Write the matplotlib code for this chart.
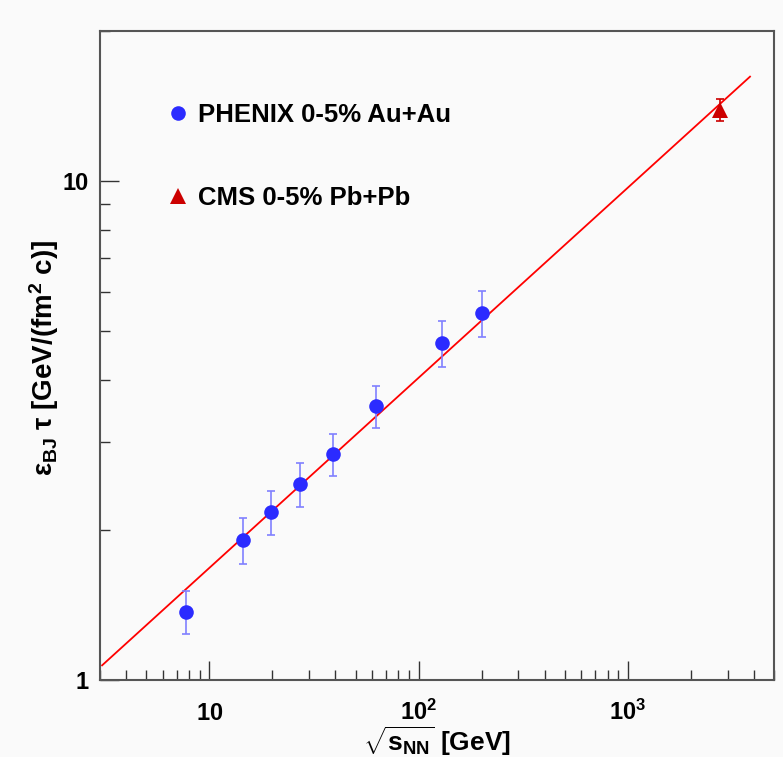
import matplotlib
matplotlib.use("Agg")
import matplotlib.pyplot as plt
from matplotlib.ticker import FixedLocator, NullFormatter, LogLocator

# ---- data ----
phenix_sqrts = [7.7, 14.5, 19.6, 27.0, 39.0, 62.4, 130.0, 200.0]
phenix_etau = [1.37, 1.91, 2.17, 2.47, 2.84, 3.54, 4.74, 5.44]
phenix_err = [0.135, 0.20, 0.22, 0.25, 0.27, 0.34, 0.50, 0.58]

cms_sqrts = [2760.0]
cms_etau = [13.9]
cms_err = [0.7]

fit_x = [3.07, 3840.0]
fit_y = [1.07, 16.2]

x_ticks = [10, 100, 1000]
x_ticklabels = [r"$\mathbf{10}$", r"$\mathbf{10^{2}}$", r"$\mathbf{10^{3}}$"]
y_ticks = [1, 10]
y_ticklabels = ["1", "10"]

plt.rcParams['font.family'] = ['Liberation Sans', 'DejaVu Sans']
plt.rcParams['font.weight'] = 'bold'
plt.rcParams['mathtext.fontset'] = 'custom'
plt.rcParams['mathtext.rm'] = 'Liberation Sans:bold'
plt.rcParams['mathtext.it'] = 'Liberation Sans:bold'
plt.rcParams['mathtext.bf'] = 'Liberation Sans:bold'
plt.rcParams['mathtext.sf'] = 'Liberation Sans:bold'

bg = '#fafafa'
fig = plt.figure(figsize=(7.83, 7.57), dpi=100, facecolor=bg)
ax = fig.add_axes([100/783, 77/757, 674/783, 649/757], facecolor=bg)

ax.set_xscale('log')
ax.set_yscale('log')
ax.set_xlim(3, 5000)
ax.set_ylim(1, 20)

ax.plot(fit_x, fit_y, color='#ff0000', lw=1.3, zorder=2)

ax.errorbar(phenix_sqrts, phenix_etau, yerr=phenix_err, fmt='none',
            ecolor='#8080ff', elinewidth=1.2, capsize=3, capthick=1.2, zorder=3)
ax.plot(phenix_sqrts, phenix_etau, 'o', color='#2b2bff', ms=10.5, mew=0,
        zorder=4, label='PHENIX 0-5% Au+Au')

ax.errorbar(cms_sqrts, cms_etau, yerr=cms_err, fmt='none',
            ecolor='#cc0000', elinewidth=1.2, capsize=3, capthick=1.2, zorder=3)
ax.plot(cms_sqrts, cms_etau, '^', color='#cc0000', ms=11, mew=0,
        zorder=4, label='CMS 0-5% Pb+Pb')

for s in ax.spines.values():
    s.set_color('#555555')
    s.set_linewidth(1.5)

ax.xaxis.set_major_locator(FixedLocator(x_ticks))
ax.set_xticklabels(x_ticklabels)
ax.xaxis.set_minor_locator(LogLocator(base=10, subs=range(2, 10)))
ax.xaxis.set_minor_formatter(NullFormatter())
ax.yaxis.set_major_locator(FixedLocator(y_ticks))
ax.set_yticklabels(y_ticklabels)
ax.yaxis.set_minor_locator(LogLocator(base=10, subs=range(2, 10)))
ax.yaxis.set_minor_formatter(NullFormatter())

ax.tick_params(which='major', direction='in', length=14, width=1.0,
               color='#333333', labelsize=17, top=False, right=False)
ax.tick_params(which='minor', direction='in', length=7, width=1.0,
               color='#333333', top=False, right=False)
ax.tick_params(axis='x', which='major', pad=29)
ax.tick_params(axis='y', which='major', pad=8)
for lab in ax.get_xticklabels():
    lab.set_va('baseline')
    lab.set_fontweight('bold')
for lab in ax.get_yticklabels():
    lab.set_fontweight('bold')

ax.set_xlabel(r"$\sqrt{s_{NN}}$ [GeV]", fontsize=19, fontweight='bold')
ax.xaxis.set_label_coords(0.5, -0.069)
ax.set_ylabel(r"$\varepsilon_{BJ}$ $\tau$ [GeV/(fm$^{2}$ c)]", fontsize=20,
              fontweight='bold')
ax.yaxis.set_label_coords(-0.058, 0.497)

leg = ax.legend(loc='upper left', bbox_to_anchor=(0.0964, 0.8895), frameon=False,
                handlelength=1.0, handletextpad=0.3,
                labelspacing=2.3, borderpad=0, borderaxespad=0,
                prop={'weight': 'bold', 'size': 18.5})

fig.savefig('out.png', dpi=100, facecolor=bg)
